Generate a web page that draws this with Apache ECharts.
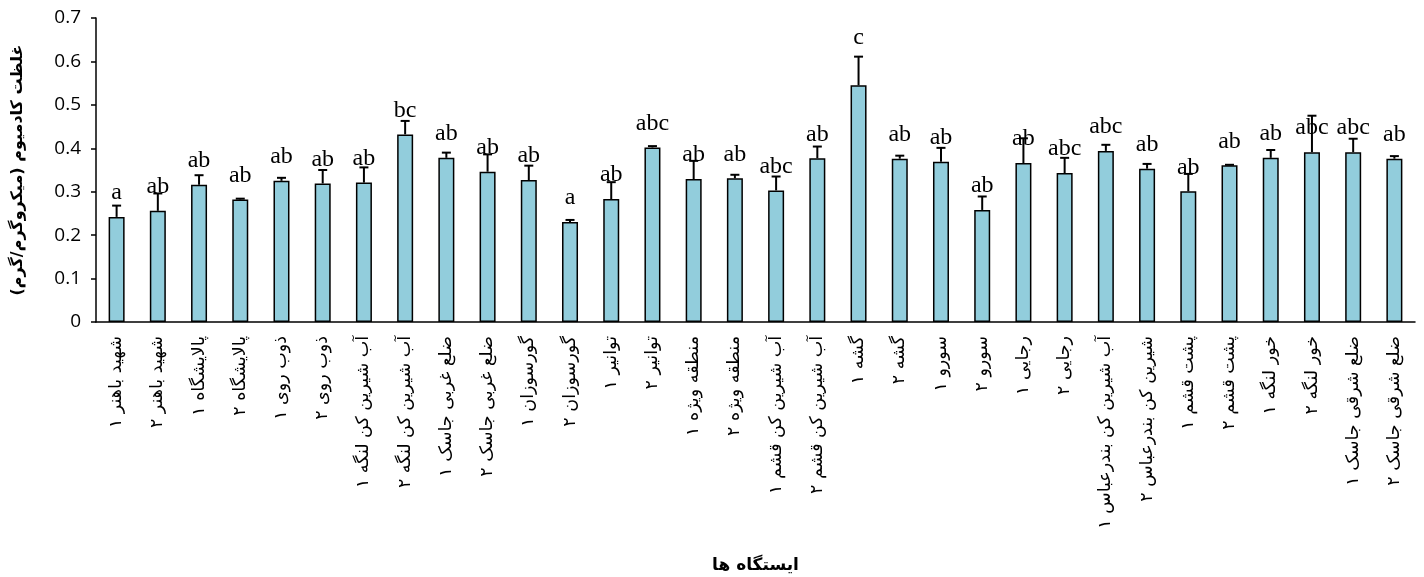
<!DOCTYPE html>
<html>
<head>
<meta charset="utf-8">
<script src="https://cdn.jsdelivr.net/npm/echarts@6/dist/echarts.min.js"></script>
<style>
html,body{margin:0;padding:0;background:#fff;}
#chart{width:1424px;height:577px;}
</style>
</head>
<body>
<div id="chart"></div>
<script>
const categories = ['شهید باهنر ۱','شهید باهنر ۲','پالایشگاه ۱','پالایشگاه ۲','ذوب روی ۱','ذوب روی ۲','آب شیرین کن لنگه ۱','آب شیرین کن لنگه ۲','ضلع غربی جاسک ۱','ضلع غربی جاسک ۲','گورسوزان ۱','گورسوزان ۲','توانیر ۱','توانیر ۲','منطقه ویژه ۱','منطقه ویژه ۲','آب شیرین کن قشم ۱','آب شیرین کن قشم ۲','گشه ۱','گشه ۲','سورو ۱','سورو ۲','رجایی ۱','رجایی ۲','آب شیرین کن بندرعباس ۱','شیرین کن بندرعباس ۲','پشت قشم ۱','پشت قشم ۲','خور لنگه ۱','خور لنگه ۲','ضلع شرقی جاسک ۱','ضلع شرقی جاسک ۲'];
const values = [0.242,0.256,0.316,0.282,0.325,0.319,0.321,0.432,0.378,0.346,0.327,0.230,0.283,0.402,0.329,0.331,0.303,0.377,0.545,0.376,0.369,0.258,0.366,0.343,0.394,0.353,0.301,0.361,0.378,0.391,0.391,0.376];
const errors = [0.026,0.040,0.022,0.002,0.007,0.031,0.035,0.031,0.012,0.040,0.033,0.005,0.039,0.003,0.042,0.008,0.032,0.027,0.066,0.007,0.032,0.031,0.057,0.035,0.014,0.011,0.040,0.001,0.018,0.084,0.031,0.006];
const letters = ['a','ab','ab','ab','ab','ab','ab','bc','ab','ab','ab','a','ab','abc','ab','ab','abc','ab','c','ab','ab','ab','ab','abc','abc','ab','ab','ab','ab','abc','abc','ab'];
const yTitle = 'غلظت کادمیوم (میکروگرم/گرم)';
const xTitle = 'ایستگاه ها';

const chart = echarts.init(document.getElementById('chart'));
const barData = values.map((v, i) => letters[i] === 'c' ? {value: v, label: {distance: 36}} : v);
const errData = values.map((v, i) => [i, v, v + errors[i]]);

chart.setOption({
  animation: false,
  grid: {left: 96, right: 9, top: 18, bottom: 255, containLabel: false, outerBoundsMode: 'none'},
  xAxis: {
    type: 'category',
    data: categories,
    name: xTitle,
    nameLocation: 'middle',
    nameGap: 235,
    nameTextStyle: {fontFamily: 'DejaVu Sans', fontWeight: 'bold', fontSize: 17, color: '#000'},
    axisLine: {lineStyle: {color: '#000', width: 1.5}},
    axisTick: {alignWithLabel: true, length: 5, lineStyle: {color: '#000', width: 1.5}},
    axisLabel: {rotate: 90, interval: 0, margin: 14, fontFamily: 'DejaVu Sans', fontSize: 17.5, color: '#000'}
  },
  yAxis: {
    type: 'value',
    min: 0, max: 0.7, interval: 0.1,
    name: yTitle,
    nameLocation: 'middle',
    nameGap: 70,
    nameRotate: 90,
    nameTextStyle: {fontFamily: 'DejaVu Sans', fontWeight: 'bold', fontSize: 16, color: '#000'},
    splitLine: {show: false},
    axisLine: {show: true, lineStyle: {color: '#000', width: 1.5}},
    axisTick: {show: true, length: 5, lineStyle: {color: '#000', width: 1.5}},
    axisLabel: {fontFamily: 'Open Sans', fontSize: 19, color: '#000', margin: 15}
  },
  series: [
    {
      type: 'bar',
      data: barData,
      barWidth: 16,
      itemStyle: {color: '#92CDDC', borderColor: '#000', borderWidth: 1.5},
      label: {
        show: true,
        position: 'top',
        distance: 12,
        formatter: p => letters[p.dataIndex],
        fontFamily: 'Liberation Serif',
        fontSize: 24,
        color: '#000'
      },
      z: 2
    },
    {
      type: 'custom',
      data: errData,
      z: 3,
      renderItem: (params, api) => {
        const x = api.value(0);
        const p0 = api.coord([x, api.value(1)]);
        const p1 = api.coord([x, api.value(2)]);
        const cap = 4.5;
        const st = {stroke: '#000', lineWidth: 2};
        return {
          type: 'group',
          children: [
            {type: 'line', shape: {x1: p0[0], y1: p0[1], x2: p1[0], y2: p1[1]}, style: st},
            {type: 'line', shape: {x1: p1[0] - cap, y1: p1[1], x2: p1[0] + cap, y2: p1[1]}, style: st}
          ]
        };
      }
    }
  ]
});
</script>
</body>
</html>
